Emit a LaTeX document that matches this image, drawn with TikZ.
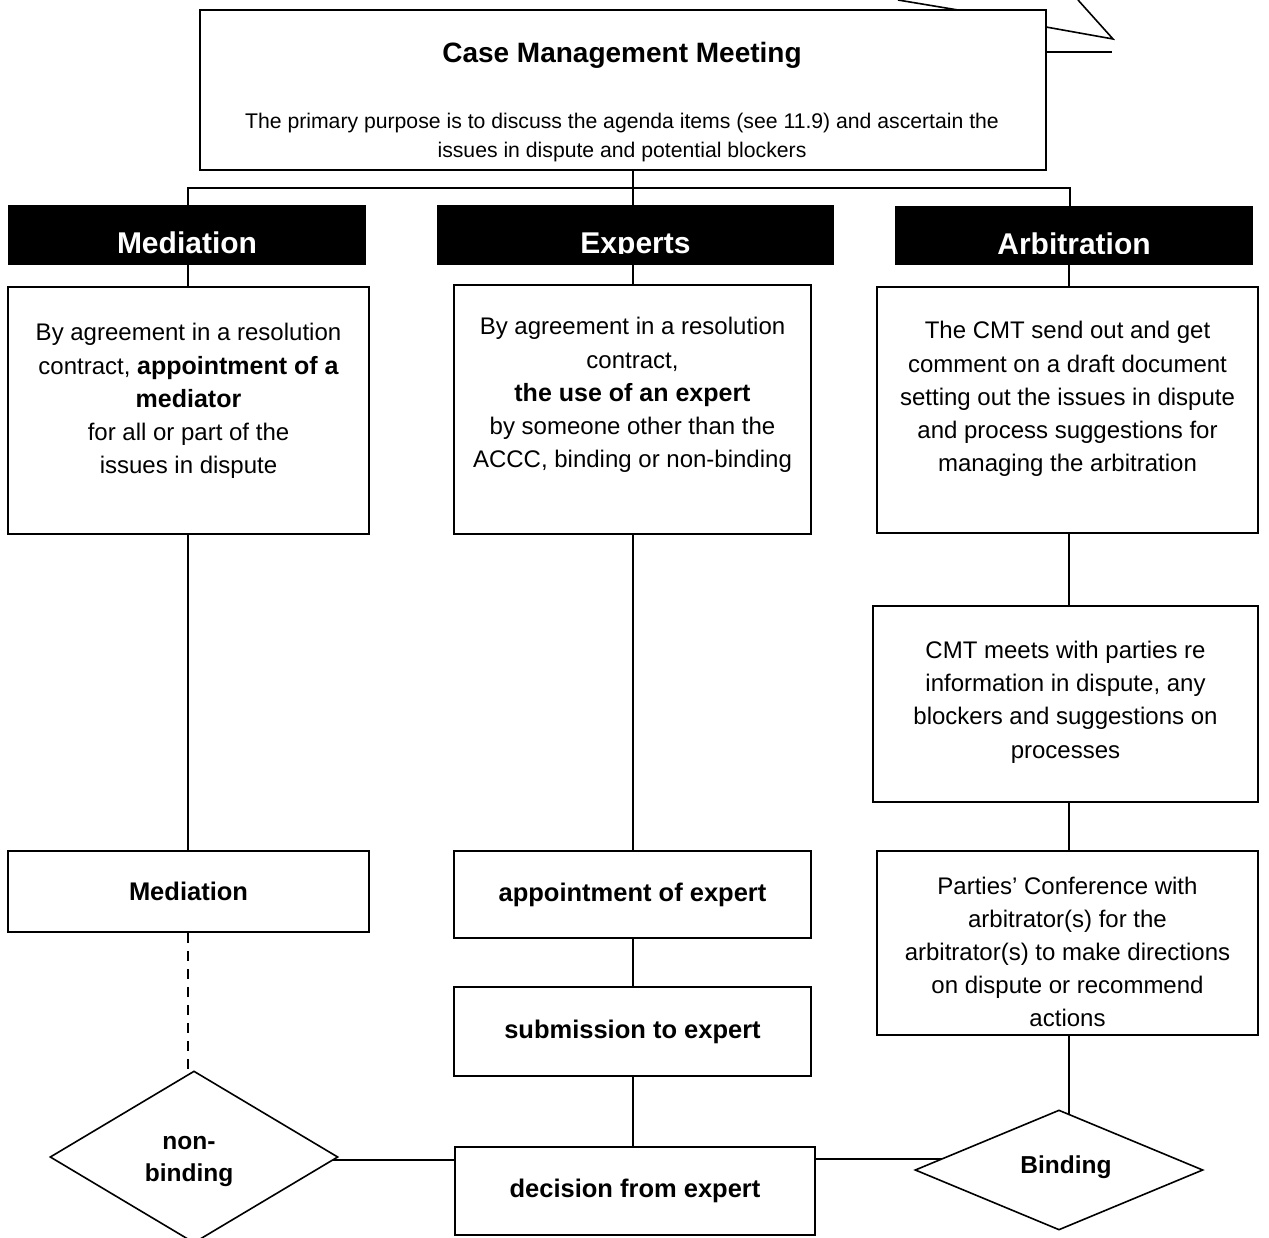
\documentclass[tikz,border=0pt]{standalone}
\usepackage{fontspec}
\setmainfont{Liberation Sans}
\usetikzlibrary{shapes.geometric}
\pgfdeclarelayer{bg}
\pgfsetlayers{bg,main}
\newcommand{\bx}[1]{{\bfseries\fontsize{25}{33.2}\selectfont #1}}
\begin{document}
\begin{tikzpicture}[x=1pt,y=-1pt,
  ln/.style={line width=1.6pt},
  box/.style={draw, line width=1.6pt, fill=white, inner sep=0},
  bar/.style={fill=black, inner sep=0},
  bartxt/.style={text=white, font=\bfseries\fontsize{30}{36}\selectfont, anchor=base, inner sep=0},
  txt/.style={align=center, inner sep=0, font=\fontsize{24}{33.2}\selectfont},
  btxt/.style={align=center, font=\bfseries\fontsize{25.5}{33.2}\selectfont},
  dia/.style={diamond, draw, line width=1.6pt, fill=white, inner sep=0},
  diatxt/.style={align=center, inner sep=0, font=\bfseries\fontsize{24.5}{32}\selectfont}]
\useasboundingbox (0,0) rectangle (1269,1238);

% top box
\node[box, minimum width=846, minimum height=160] (cmm) at (623,90) {};
\node[inner sep=0, font=\bfseries\fontsize{28}{33}\selectfont] (cmmt) at (622,55) {Case Management Meeting};
\node[align=center, inner sep=0, font=\fontsize{21.2}{29}\selectfont] (cmmb) at (622,138)
  {The primary purpose is to discuss the agenda items (see 11.9) and ascertain the\\issues in dispute and potential blockers};

% stray lines at top
\coordinate (d1) at (898,0);
\coordinate (d2) at (958,10);
\coordinate (d3) at (1046,27);
\coordinate (d4) at (1113,39);
\coordinate (d5) at (1078,0);
\coordinate (d6) at (1046,52);
\coordinate (d7) at (1112,52);
\draw[ln] (d1) -- (d2);
\draw[ln] (d3) -- (d4) -- (d5);
\draw[ln] (d6) -- (d7);

% bars
\node[bar, minimum width=358, minimum height=60] (medbar) at (187,235) {};
\node[bar, minimum width=397, minimum height=60] (expbar) at (635.5,235) {};
\node[bar, minimum width=358, minimum height=59] (arbbar) at (1074,235.5) {};
\begin{scope}
  \clip (0,200) rectangle (1269,253.5);
  \node[bartxt] (medbart) at (187,254) {Mediation};
  \node[bartxt] (expbart) at (635.5,254) {Experts};
  \node[bartxt] (arbbart) at (1074,254.5) {Arbitration};
\end{scope}

% column x positions
\coordinate (cm) at (188,0);
\coordinate (ce) at (633,0);
\coordinate (ca) at (1069,0);
\coordinate (j1) at (188,188);
\coordinate (j2) at (1070,188);

% mediation column
\node[box, minimum width=361, minimum height=247] (medbox) at (188.5,410.5) {};
\node[txt] (medtxt) at (188.5,401) {By agreement in a resolution\\contract, \bx{appointment of a}\\\bx{mediator}\\for all or part of the\\issues in dispute};
\node[box, minimum width=361, minimum height=81, btxt] (medbox2) at (188.5,891.5) {Mediation};
\node[dia, minimum width=288, minimum height=172] (nb) at (194,1157) {};
\node[diatxt] (nbt) at (189,1161) {non-\\binding};

% experts column
\node[box, minimum width=357, minimum height=249] (expbox) at (632.5,409.5) {};
\node[txt] (exptxt) at (632.5,395) {By agreement in a resolution\\contract,\\\bx{the use of an expert}\\by someone other than the\\ACCC, binding or non-binding};
\node[box, minimum width=357, minimum height=87, btxt] (expbox2) at (632.5,894.5) {appointment of expert};
\node[box, minimum width=357, minimum height=89, btxt] (expbox3) at (632.5,1031.5) {submission to expert};
\node[box, minimum width=360, minimum height=88, btxt] (expbox4) at (635,1191) {decision from expert};

% arbitration column
\node[box, minimum width=381, minimum height=246] (arbbox) at (1067.5,410) {};
\node[txt] (arbtxt) at (1067.5,399) {The CMT send out and get\\comment on a draft document\\setting out the issues in dispute\\and process suggestions for\\managing the arbitration};
\node[box, minimum width=385, minimum height=196] (arbbox2) at (1065.5,704) {};
\node[txt] (arbtxt2) at (1065.5,702) {CMT meets with parties re\\information in dispute, any\\blockers and suggestions on\\processes};
\node[box, minimum width=381, minimum height=184] (arbbox3) at (1067.5,943) {};
\node[txt] (arbtxt3) at (1067.5,952) {Parties’ Conference with\\arbitrator(s) for the\\arbitrator(s) to make directions\\on dispute or recommend\\actions};
\node[dia, minimum width=288, minimum height=120] (bind) at (1059,1170) {};
\node[diatxt] (bindt) at (1066,1167) {Binding};

\coordinate (hl) at (0,1160);
\coordinate (hr) at (0,1159);

\begin{pgfonlayer}{bg}
  % top connectors
  \draw[ln] (medbar.north -| j1) -- (j1) -- (j2) -- (arbbar.north -| j2);
  \draw[ln] (cmm.south -| ce) -- (expbar.north -| ce);
  % mediation
  \draw[ln] (medbar.south -| cm) -- (medbox.north -| cm);
  \draw[ln] (medbox.south -| cm) -- (medbox2.north -| cm);
  \draw[ln, dash pattern=on 10pt off 8pt] (medbox2.south -| cm) -- (nb.center -| cm);
  % experts
  \draw[ln] (expbar.south -| ce) -- (expbox.north -| ce);
  \draw[ln] (expbox.south -| ce) -- (expbox2.north -| ce);
  \draw[ln] (expbox2.south -| ce) -- (expbox3.north -| ce);
  \draw[ln] (expbox3.south -| ce) -- (expbox4.north -| ce);
  % arbitration
  \draw[ln] (arbbar.south -| ca) -- (arbbox.north -| ca);
  \draw[ln] (arbbox.south -| ca) -- (arbbox2.north -| ca);
  \draw[ln] (arbbox2.south -| ca) -- (arbbox3.north -| ca);
  \draw[ln] (arbbox3.south -| ca) -- (bind.center -| ca);
  % bottom horizontals
  \draw[ln] (nb.center |- hl) -- (expbox4.west |- hl);
  \draw[ln] (expbox4.east |- hr) -- (bind.center |- hr);
\end{pgfonlayer}
\end{tikzpicture}
\end{document}
